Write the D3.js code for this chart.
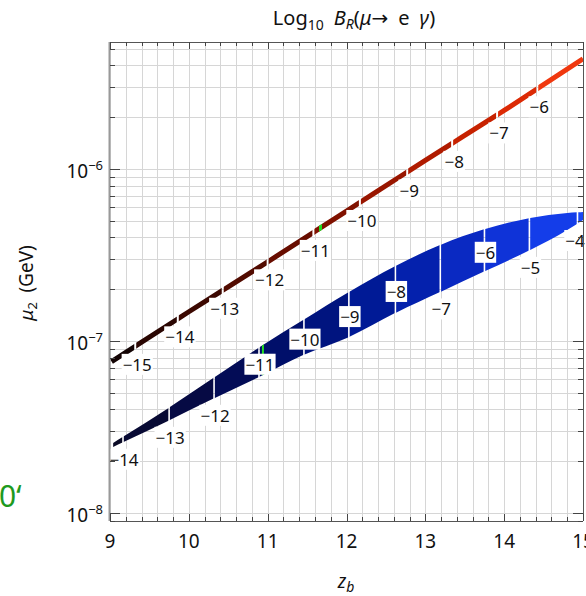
<!DOCTYPE html>
<html><head><meta charset="utf-8">
<script src="https://cdn.jsdelivr.net/npm/d3@7"></script>
<style>body{margin:0;background:#fff} text{font-family:"Noto Sans","DejaVu Sans",sans-serif;fill:#111}</style>
</head><body><svg id="c" width="586" height="596"></svg>
<script>
// ---------- data ----------
const xTicks = [9, 10, 11, 12, 13, 14, 15];
const yDecades = [-8, -7, -6];

// red (upper) band centre line: z_b and log10 mu2
const redZ = [9.02, 10, 11, 12, 13, 14, 15];
const redLogMu = [-7.12, -6.83, -6.54, -6.245, -5.95, -5.66, -5.36];
const redLevels = [-15, -14, -13, -12, -11, -10, -9, -8, -7, -6];
const redLevelZ = [9.32, 9.86, 10.43, 11.0, 11.58, 12.17, 12.77, 13.34, 13.91, 14.42];
const redColors = ["#140404", "#2a0602", "#3c0801", "#520b00", "#680d00", "#801200", "#991600", "#b01b00", "#c72200", "#dc2a05", "#f0380f"];
const redMarkZ = 11.67;

// blue (lower) band: z_b, upper and lower edges in log10 mu2
const blueZ = [9.04, 9.76, 10.33, 10.94, 11.45, 12.02, 12.62, 13.19, 13.76, 14.33, 14.80, 15.0];
const blueUpper = [-7.593, -7.384, -7.209, -7.023, -6.878, -6.718, -6.564, -6.442, -6.349, -6.285, -6.256, -6.25];
const blueLower = [-7.616, -7.459, -7.331, -7.198, -7.082, -6.980, -6.837, -6.715, -6.593, -6.471, -6.355, -6.297];
const blueLevels = [-14, -13, -12, -11, -10, -9, -8, -7, -6, -5, -4];
const blueLevelZ = [9.165, 9.75, 10.32, 10.89, 11.46, 12.03, 12.62, 13.19, 13.75, 14.32, 14.93];
const blueLabelInside = [false, false, false, true, true, true, true, false, true, false, false];
const blueColors = ["#0a0a26", "#080a34", "#060a44", "#030c56", "#000f6a", "#00147f", "#001a96", "#0421ad", "#0a29c2", "#0f33d8", "#143de9", "#1a48f5"];
const blueMarkZ = 10.94;

// ---------- layout ----------
const W = 586;
const svg = d3.select("#c");
const L = 110, R = 583, T = 42, B = 521;
const x = d3.scaleLinear().domain([9, 15]).range([L, R]);
const y = d3.scaleLog().domain([Math.pow(10, -8.0465), Math.pow(10, -5.262)]).range([B, T]);

svg.append("defs").append("clipPath").attr("id", "plot")
  .append("rect").attr("x", L).attr("y", T).attr("width", R - L).attr("height", B - T);

// grid
const grid = svg.append("g").attr("stroke", "#d6d6d6").attr("stroke-width", 1);
const xMinor = d3.range(9, 15.0001, 0.2);
grid.selectAll("line.v").data(xMinor).join("line")
  .attr("x1", d => Math.round(x(d)) + 0.5).attr("x2", d => Math.round(x(d)) + 0.5)
  .attr("y1", T).attr("y2", B);
const yMinor = [];
for (const e of [-9, -8, -7, -6]) for (let m = 1; m <= 9; m++) {
  const v = m * Math.pow(10, e);
  if (v >= y.domain()[0] && v <= y.domain()[1]) yMinor.push(v);
}
grid.selectAll("line.h").data(yMinor).join("line")
  .attr("x1", L).attr("x2", R)
  .attr("y1", d => Math.round(y(d)) + 0.5).attr("y2", d => Math.round(y(d)) + 0.5);

const plot = svg.append("g").attr("clip-path", "url(#plot)");
const defs = svg.select("defs");

// ---------- blue band ----------
const bluePts = blueZ.map((z, i) => ({z, u: Math.pow(10, blueUpper[i]), l: Math.pow(10, blueLower[i])}));
const area = d3.area().x(d => x(d.z)).y0(d => y(d.l)).y1(d => y(d.u)).curve(d3.curveMonotoneX);
const bBounds = [8].concat(blueLevelZ).concat([16]);
blueColors.forEach((c, i) => {
  const id = "bc" + i;
  const x0 = x(bBounds[i]) + (i > 0 ? 0.8 : 0), x1 = x(bBounds[i + 1]) - (i < blueColors.length - 1 ? 0.8 : 0);
  defs.append("clipPath").attr("id", id).append("rect")
    .attr("x", x0).attr("y", 0).attr("width", Math.max(0, x1 - x0)).attr("height", 596);
  plot.append("path").datum(bluePts).attr("d", area).attr("fill", c).attr("clip-path", `url(#${id})`);
});
// green mark on blue band
defs.append("clipPath").attr("id", "bandclip").append("path").datum(bluePts).attr("d", area);
plot.append("line").attr("x1", x(blueMarkZ)).attr("x2", x(blueMarkZ)).attr("y1", T).attr("y2", B)
  .attr("stroke", "#22dd22").attr("stroke-width", 2).attr("clip-path", "url(#bandclip)");

// ---------- red line ----------
const redPts = redZ.map((z, i) => ({z, v: Math.pow(10, redLogMu[i])}));
const line = d3.line().x(d => x(d.z)).y(d => y(d.v)).curve(d3.curveMonotoneX);
const rBounds = [8].concat(redLevelZ).concat([16]);
redColors.forEach((c, i) => {
  const id = "rc" + i;
  const x0 = x(rBounds[i]) + (i > 0 ? 1 : 0), x1 = x(rBounds[i + 1]) - (i < redColors.length - 1 ? 1 : 0);
  defs.append("clipPath").attr("id", id).append("rect")
    .attr("x", x0).attr("y", 0).attr("width", Math.max(0, x1 - x0)).attr("height", 596);
  plot.append("path").datum(redPts).attr("d", line).attr("fill", "none")
    .attr("stroke", c).attr("stroke-width", 5).attr("clip-path", `url(#${id})`);
});
defs.append("clipPath").attr("id", "gm").append("rect")
  .attr("x", x(redMarkZ) - 1.5).attr("y", 0).attr("width", 3).attr("height", 596);
plot.append("path").datum(redPts).attr("d", line).attr("fill", "none")
  .attr("stroke", "#22dd22").attr("stroke-width", 5).attr("clip-path", "url(#gm)");

// interpolation helpers for label placement
const lin = (zs, vs, z) => {
  let i = d3.bisectLeft(zs, z); i = Math.max(1, Math.min(zs.length - 1, i));
  const t = (z - zs[i - 1]) / (zs[i] - zs[i - 1]);
  return vs[i - 1] + t * (vs[i] - vs[i - 1]);
};
function label(px, py, txt) {
  const g = svg.append("g");
  const t = g.append("text").attr("x", px).attr("y", py).attr("text-anchor", "middle")
    .attr("dominant-baseline", "central").attr("font-size", 17).text(txt);
  let bb = t.node().getBBox();
  if (bb.x + bb.width > W - 1) { t.attr("x", px - (bb.x + bb.width - (W - 1))); bb = t.node().getBBox(); }
  g.insert("rect", "text").attr("x", bb.x - 1).attr("y", bb.y + 1).attr("width", bb.width + 2)
    .attr("height", bb.height - 2).attr("fill", "#fff");
}
redLevels.forEach((lv, i) => {
  const z = redLevelZ[i];
  label(x(z) + 2, y(Math.pow(10, lin(redZ, redLogMu, z))) + 18, "\u2212" + Math.abs(lv));
});
blueLevels.forEach((lv, i) => {
  const z = blueLevelZ[i];
  const yu = y(Math.pow(10, lin(blueZ, blueUpper, z))), yl = y(Math.pow(10, lin(blueZ, blueLower, z)));
  const py = blueLabelInside[i] ? (yu + yl) / 2 + 2 : yl + 17;
  label(x(z) + 1, py, "\u2212" + Math.abs(lv));
});

// ---------- frame & ticks ----------
const fr = svg.append("g").attr("stroke", "#555").attr("fill", "none");
fr.append("line").attr("x1", L).attr("x2", R).attr("y1", B + 0.5).attr("y2", B + 0.5);
fr.append("line").attr("x1", L).attr("x2", R).attr("y1", T + 0.5).attr("y2", T + 0.5);
fr.append("line").attr("x1", L - 0.5).attr("x2", L - 0.5).attr("y1", T).attr("y2", B).attr("stroke", "#999").attr("stroke-width", 2);
fr.append("line").attr("x1", R + 0.5).attr("x2", R + 0.5).attr("y1", T).attr("y2", B);
const tk = svg.append("g").attr("stroke", "#444").attr("stroke-width", 1);
xMinor.forEach(v => {
  const isMaj = Math.abs(v - Math.round(v)) < 1e-6;
  const len = isMaj ? 7 : 4, px = Math.round(x(v)) + 0.5;
  tk.append("line").attr("x1", px).attr("x2", px).attr("y1", B).attr("y2", B - len);
  tk.append("line").attr("x1", px).attr("x2", px).attr("y1", T).attr("y2", T + len);
});
yMinor.forEach(v => {
  const isMaj = Math.abs(Math.log10(v) - Math.round(Math.log10(v))) < 1e-6;
  const len = isMaj ? 10 : 5, py = Math.round(y(v)) + 0.5;
  tk.append("line").attr("x1", L).attr("x2", L + len).attr("y1", py).attr("y2", py);
  tk.append("line").attr("x1", R).attr("x2", R - len).attr("y1", py).attr("y2", py);
});

// tick labels
xTicks.forEach(v => {
  svg.append("text").attr("x", x(v)).attr("y", 548).attr("text-anchor", "middle")
    .attr("font-size", 19).text(v);
});
yDecades.forEach(e => {
  const t = svg.append("text").attr("x", 103).attr("y", y(Math.pow(10, e)) + 9)
    .attr("text-anchor", "end").attr("font-size", 19);
  t.append("tspan").text("10");
  t.append("tspan").attr("dy", -8).attr("font-size", 13).text("\u2212" + Math.abs(e));
});

// titles
const title = svg.append("text").attr("x", 354).attr("y", 25).attr("text-anchor", "middle").attr("font-size", 20);
title.append("tspan").text("Log");
title.append("tspan").attr("font-size", 14).attr("dy", 5).text("10");
title.append("tspan").attr("dy", -5).text("\u2002");
title.append("tspan").attr("font-style", "italic").text("B");
title.append("tspan").attr("font-style", "italic").attr("font-size", 14).attr("dy", 4).text("R");
title.append("tspan").attr("dy", -4).text("(");
title.append("tspan").attr("font-style", "italic").text("\u03bc");
title.append("tspan").text("\u2192\u2002e\u2002");
title.append("tspan").attr("font-style", "italic").text("\u03b3");
title.append("tspan").text(")");

const yl = svg.append("text").attr("transform", "translate(33,283) rotate(-90)")
  .attr("text-anchor", "middle").attr("font-size", 19);
yl.append("tspan").attr("font-style", "italic").text("\u03bc");
yl.append("tspan").attr("font-size", 13).attr("dy", 4).text("2");
yl.append("tspan").attr("dy", -4).text("\u2002(GeV)");

const xl = svg.append("text").attr("x", 346).attr("y", 588).attr("text-anchor", "middle").attr("font-size", 19);
xl.append("tspan").attr("font-style", "italic").text("z");
xl.append("tspan").attr("font-style", "italic").attr("font-size", 14).attr("dy", 4).text("b");

svg.append("text").attr("x", -1).attr("y", 507).attr("font-size", 30).style("fill", "#1e9a1e").text("0\u2018");
</script></body></html>
